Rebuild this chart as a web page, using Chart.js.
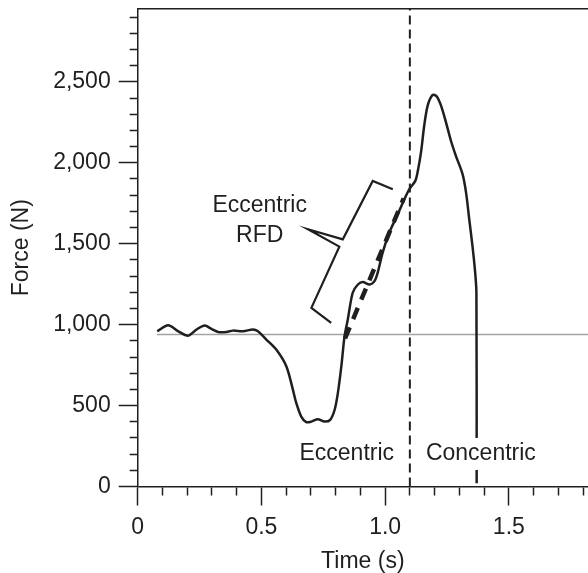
<!DOCTYPE html>
<html lang="en">
<head>
<meta charset="UTF-8">
<title>Force-time curve</title>
<script src="https://cdn.jsdelivr.net/npm/chart.js"></script>
<style>
  body { margin: 0; background: #fff; }
</style>
</head>
<body>
<canvas id="myChart" width="588" height="573"></canvas>
<script>
// force-time trace (s, N)
const timeS = [0.079, 0.123, 0.164, 0.204, 0.238, 0.271, 0.298, 0.325, 0.359, 0.385, 0.426, 0.466, 0.486,
  0.520, 0.560, 0.601, 0.627, 0.641, 0.661, 0.681, 0.702, 0.728, 0.755, 0.778, 0.796, 0.809, 0.823, 0.836,
  0.849, 0.869, 0.890, 0.910, 0.937, 0.957, 0.970, 0.990, 1.017, 1.051, 1.078, 1.098, 1.122, 1.131, 1.145,
  1.158, 1.172, 1.192, 1.208, 1.226, 1.246, 1.266, 1.286, 1.313, 1.327, 1.340, 1.353, 1.364, 1.369, 1.370];
const forceN = [959, 996, 959, 932, 970, 994, 974, 955, 955, 963, 959, 970, 959,
  908, 846, 742, 600, 515, 432, 398, 401, 416, 401, 412, 474, 577, 742, 928,
  1030, 1197, 1248, 1263, 1248, 1269, 1321, 1445, 1569, 1682, 1775, 1837, 1888, 1940, 2064,
  2229, 2353, 2419, 2411, 2353, 2250, 2136, 2043, 1930, 1817, 1651, 1486, 1321, 1197, 20];

// body weight line
const bwTime = [0.078, 1.82];
const bwForce = [939, 939];

// eccentric RFD slope (thick dashed)
const rfdTime = [0.838, 1.075];
const rfdForce = [915, 1780];

// eccentric / concentric divider
const splitTime = [1.10, 1.10];
const splitForce = [0, 2950];

// bracket around the RFD part
const bracketTime = [1.031, 0.950, 0.829, 0.688, 0.815, 0.702, 0.782];
const bracketForce = [1837, 1888, 1527, 1589, 1482, 1104, 1011];

// labels inside the plot (boxed ones get a white background)
const noteText = ['Eccentric', 'RFD', 'Eccentric', 'Concentric'];
const noteTime = [0.493, 0.493, 0.845, 1.387];
const noteForce = [1733, 1552, 201, 201];
const noteBoxed = [false, false, true, true];

const xTicks = { min: 0, max: 1.82, step: 0.1 };
const yTicks = { min: 0, max: 2950, step: 100 };

function pts(xs, ys) {
  return xs.map((x, i) => ({ x: x, y: ys[i] }));
}

const ink = '#1f1f1f';
const fontFam = '"Liberation Sans", Arial, Helvetica, sans-serif';
const fontSize = 23;

const notesPlugin = {
  id: 'notes',
  afterDatasetsDraw(chart) {
    const c = chart.ctx;
    const sx = chart.scales.x, sy = chart.scales.y;
    c.save();
    c.font = fontSize + 'px ' + fontFam;
    c.textAlign = 'center';
    c.textBaseline = 'middle';
    for (let i = 0; i < noteText.length; i++) {
      const px = sx.getPixelForValue(noteTime[i]);
      const py = sy.getPixelForValue(noteForce[i]);
      if (noteBoxed[i]) {
        const w = c.measureText(noteText[i]).width;
        c.fillStyle = '#fff';
        c.fillRect(px - w / 2 - 3, py - 16, w + 6, 32);
      }
      c.fillStyle = ink;
      c.fillText(noteText[i], px, py);
    }
    c.restore();
  }
};

function isMajor(v) {
  return Math.round(v * 1000) % 500 === 0;
}

const ctx = document.getElementById('myChart');
new Chart(ctx, {
  type: 'line',
  data: {
    datasets: [
      { data: pts(timeS, forceN), borderColor: ink, borderWidth: 2.5, tension: 0.3 },
      { data: pts(rfdTime, rfdForce), borderColor: ink, borderWidth: 4.5, borderDash: [12, 9], tension: 0 },
      { data: pts(bracketTime, bracketForce), borderColor: ink, borderWidth: 2.2, tension: 0 },
      { data: pts(splitTime, splitForce), borderColor: ink, borderWidth: 2, borderDash: [9, 5], tension: 0 },
      { data: pts(bwTime, bwForce), borderColor: '#a3a3a3', borderWidth: 1.5, tension: 0 }
    ]
  },
  options: {
    responsive: false,
    animation: false,
    events: [],
    layout: { padding: { top: 9, right: 0, left: 0, bottom: 0 } },
    elements: { point: { radius: 0 } },
    plugins: { legend: { display: false }, tooltip: { enabled: false } },
    scales: {
      x: {
        type: 'linear',
        position: 'bottom',
        min: xTicks.min,
        max: xTicks.max,
        afterFit: (s) => { s.height = 86.5; s.paddingLeft = 0; s.paddingRight = 0; },
        ticks: {
          stepSize: xTicks.step,
          includeBounds: false,
          autoSkip: false,
          maxRotation: 0,
          padding: 8,
          color: ink,
          font: { family: fontFam, size: fontSize },
          callback: (v) => isMajor(v) ? (v === 0 ? '0' : v.toFixed(1)) : ''
        },
        grid: {
          drawOnChartArea: false,
          tickLength: 19,
          tickWidth: 1.5,
          tickColor: ink,
          tickBorderDash: (c) => isMajor(c.tick.value) ? [] : [8, 40]
        },
        border: { color: ink, width: 1.5 },
        title: {
          display: true,
          text: 'Time (s)',
          color: ink,
          font: { family: fontFam, size: fontSize, lineHeight: 1 },
          padding: 0
        }
      },
      x2: {
        type: 'linear',
        position: 'top',
        afterFit: (s) => { s.height = 0; s.paddingLeft = 0; s.paddingRight = 0; },
        ticks: { display: false },
        grid: { drawOnChartArea: false, drawTicks: false },
        border: { color: ink, width: 1.5 }
      },
      y: {
        type: 'linear',
        min: yTicks.min,
        max: yTicks.max,
        afterFit: (s) => { s.width = 137.7; s.paddingTop = 0; s.paddingBottom = 0; },
        ticks: {
          stepSize: yTicks.step,
          includeBounds: false,
          autoSkip: false,
          padding: 8,
          color: ink,
          font: { family: fontFam, size: fontSize },
          callback: (v) => v % 500 === 0 ? v.toLocaleString('en-US') : ''
        },
        grid: {
          drawOnChartArea: false,
          tickLength: 19,
          tickWidth: 1.5,
          tickColor: ink,
          tickBorderDash: (c) => c.tick.value % 500 === 0 ? [] : [0, 11, 9, 40]
        },
        border: { color: ink, width: 1.5 },
        title: {
          display: true,
          text: 'Force (N)',
          color: ink,
          font: { family: fontFam, size: fontSize, lineHeight: 1 },
          padding: { top: 10.5, bottom: 0 }
        }
      }
    }
  },
  plugins: [notesPlugin]
});
</script>
</body>
</html>
